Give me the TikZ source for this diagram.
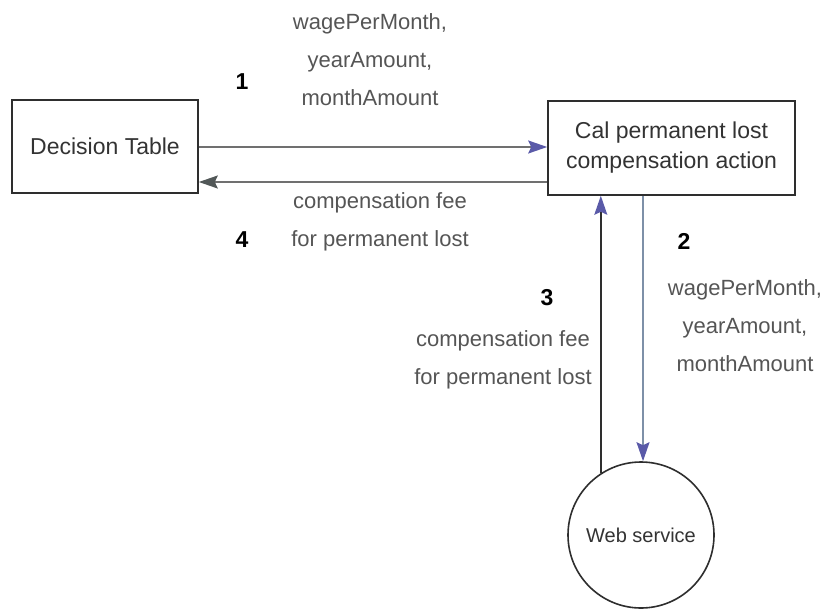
\documentclass[tikz,border=0pt]{standalone}
\usepackage{fontspec}
\setmainfont{Liberation Sans}
\usetikzlibrary{arrows.meta}
\definecolor{boxline}{HTML}{2E2E2E}
\definecolor{boxtext}{HTML}{333333}
\definecolor{labeltext}{HTML}{555555}
\definecolor{flowline}{HTML}{707070}
\definecolor{flowblue}{HTML}{7E90A8}
\definecolor{headblue}{HTML}{5A5AA8}
\definecolor{headgray}{HTML}{525858}
\tikzset{
  block/.style={draw=boxline, line width=1.6pt, rectangle, text=boxtext, align=center,
    font=\fontsize{23}{30}\selectfont, inner sep=0pt},
  service/.style={draw=boxline, line width=1.6pt, circle, text=boxtext,
    font=\fontsize{20}{24}\selectfont, inner sep=0pt},
  msg/.style={text=labeltext, align=center, font=\fontsize{22}{38}\selectfont, inner sep=0pt},
  stepno/.style={text=black, font=\fontsize{23}{28}\selectfont\bfseries, inner sep=0pt},
  flow/.style={draw=flowline, line width=1.4pt},
  bluehead/.style={-{Stealth[length=19pt,width=13pt,inset=3pt,color=headblue]}},
  grayhead/.style={-{Stealth[length=19pt,width=13pt,inset=3pt,color=headgray]}},
}
\begin{document}
\begin{tikzpicture}[x=1pt,y=-1pt]
  \useasboundingbox (0,0) rectangle (829,610);

  % the three participants
  \node[block, minimum width=186pt, minimum height=93pt] (dt) at (105,146.5) {Decision Table};
  \node[block, minimum width=247pt, minimum height=94pt] (cal) at (671.5,148)
    {Cal permanent lost\\compensation action};
  \node[service, minimum size=146pt] (ws) at (641,535) {Web service};

  % 1: inputs sent to the action
  \coordinate (a1) at ([yshift=-0.5pt]dt.east);
  \draw[flow, bluehead] (a1) -- (a1 -| cal.west);

  % 4: result returned to the decision table
  \coordinate (a4) at ([yshift=-34pt]cal.west);
  \draw[flow, grayhead] (a4) -- (a4 -| dt.east);

  % 2: inputs forwarded to the web service
  \coordinate (a2) at ([xshift=2pt]ws.north);
  \draw[draw=flowblue, line width=1.4pt, bluehead] (a2 |- cal.south) -- (a2);

  % 3: result coming back from the web service
  \coordinate (a3) at (ws.123);
  \draw[draw=boxline, line width=1.4pt, bluehead] (a3) -- (a3 |- cal.south);

  % step numbers
  \node[stepno] (n1) at (242,82) {1};
  \node[stepno] (n4) at (242,240) {4};
  \node[stepno] (n2) at (684,241) {2};
  \node[stepno] (n3) at (547,298) {3};

  % message labels
  \node[msg] (m1) at (370,60) {wagePerMonth,\\yearAmount,\\monthAmount};
  \node[msg] (m4) at (380,222) {compensation fee\\for permanent lost};
  \node[msg] (m2) at (745,326) {wagePerMonth,\\yearAmount,\\monthAmount};
  \node[msg] (m3) at (503,360) {compensation fee\\for permanent lost};
\end{tikzpicture}
\end{document}
